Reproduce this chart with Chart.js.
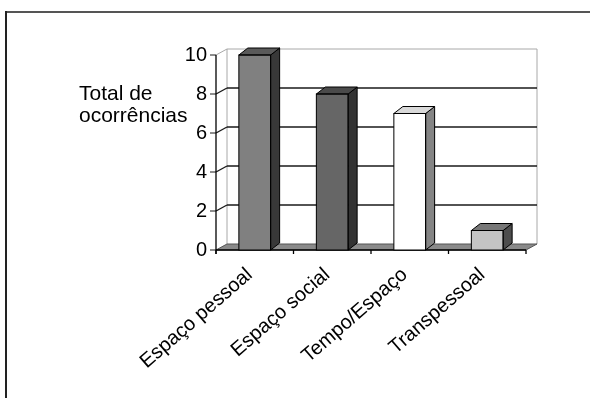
<!DOCTYPE html>
<html>
<head>
<meta charset="utf-8">
<script src="https://cdn.jsdelivr.net/npm/chart.js@4"></script>
<style>
  html, body { margin: 0; padding: 0; background: #ffffff; }
  #wrap { width: 590px; height: 398px; position: relative; }
</style>
</head>
<body>
<div id="wrap"><canvas id="c" width="590" height="398"></canvas></div>
<script>
// Data
const categories = ['Espaço pessoal', 'Espaço social', 'Tempo/Espaço', 'Transpessoal'];
const occurrences = [10, 8, 7, 1];
const yTickValues = [0, 2, 4, 6, 8, 10];
const axisTitleLines = ['Total de', 'ocorrências'];

// Per-bar shading: front, right side, top
const frontColors = ['#808080', '#666666', '#ffffff', '#c4c4c4'];
const sideColors  = ['#383838', '#333333', '#858585', '#4d4d4d'];
const topColors   = ['#5a5a5a', '#4a4a4a', '#d9d9d9', '#777777'];

const FONT = '"Liberation Sans", Arial, Helvetica, sans-serif';

// depth offsets of the walls and of the columns
const WALL_DX = 11, WALL_DY = -6;
const BAR_DX = 9, BAR_DY = -7;

function seg(ctx, x1, y1, x2, y2) {
  ctx.beginPath();
  ctx.moveTo(x1, y1);
  ctx.lineTo(x2, y2);
  ctx.stroke();
}
function poly(ctx, pts, fill, stroke) {
  ctx.beginPath();
  ctx.moveTo(pts[0][0], pts[0][1]);
  for (let i = 1; i < pts.length; i++) ctx.lineTo(pts[i][0], pts[i][1]);
  ctx.closePath();
  if (fill) { ctx.fillStyle = fill; ctx.fill(); }
  if (stroke) { ctx.strokeStyle = stroke; ctx.stroke(); }
}

const frame3d = {
  id: 'frame3d',
  beforeDraw(chart) {
    const ctx = chart.ctx;
    ctx.save();
    ctx.fillStyle = '#ffffff';
    ctx.fillRect(0, 0, chart.width, chart.height);
    // frame lines
    ctx.fillStyle = '#555555';
    ctx.fillRect(5, 11, chart.width - 5, 2);
    ctx.fillStyle = '#222222';
    ctx.fillRect(5, 11, 2, chart.height - 11);
    // axis title
    ctx.fillStyle = '#000000';
    ctx.font = '21px ' + FONT;
    ctx.textAlign = 'left';
    ctx.textBaseline = 'alphabetic';
    ctx.fillText(axisTitleLines[0], 79, 100);
    ctx.fillText(axisTitleLines[1], 79, 122);
    ctx.restore();
  },
  beforeDatasetsDraw(chart) {
    const { ctx, chartArea: a, scales } = chart;
    const y = scales.y;
    const L = a.left, R = a.right;
    const y0 = y.getPixelForValue(0);
    const yTop = y.getPixelForValue(10);
    ctx.save();
    ctx.lineWidth = 1;

    // back wall edges
    ctx.strokeStyle = '#a8a8a8';
    seg(ctx, L + WALL_DX, yTop + WALL_DY, R + WALL_DX, yTop + WALL_DY);
    seg(ctx, L + WALL_DX, yTop + WALL_DY, L + WALL_DX, y0 + WALL_DY);
    seg(ctx, R + WALL_DX, yTop + WALL_DY, R + WALL_DX, y0 + WALL_DY);
    seg(ctx, L, yTop, L + WALL_DX, yTop + WALL_DY);

    // gridlines on back wall and side wall, tick marks on the value axis
    y.ticks.forEach(t => {
      const yp = y.getPixelForValue(t.value);
      ctx.strokeStyle = '#1a1a1a';
      ctx.lineWidth = 1.4;
      if (t.value > 0 && t.value < 10) {
        seg(ctx, L + WALL_DX, yp + WALL_DY, R + WALL_DX, yp + WALL_DY);
        seg(ctx, L, yp, L + WALL_DX, yp + WALL_DY);
      }
      ctx.lineWidth = 1;
      seg(ctx, L - 6, yp, L, yp);
    });

    // floor
    ctx.lineWidth = 1;
    poly(ctx, [[L, y0], [R, y0], [R + WALL_DX, y0 + WALL_DY], [L + WALL_DX, y0 + WALL_DY]], '#8a8a8a', '#555555');
    ctx.strokeStyle = '#000000';
    ctx.lineWidth = 1.3;
    seg(ctx, L, y0, R, y0);
    // front value axis
    seg(ctx, L, yTop, L, y0 + 4);

    // category boundary ticks along the floor front
    const n = categories.length;
    const step = (R - L) / n;
    for (let i = 0; i <= n; i++) {
      const xp = L + i * step;
      seg(ctx, xp, y0, xp, y0 + 4);
    }
    ctx.restore();
  },
  afterDatasetsDraw(chart) {
    const ctx = chart.ctx;
    const meta = chart.getDatasetMeta(0);
    ctx.save();
    ctx.lineWidth = 1;
    meta.data.forEach((bar, i) => {
      const p = bar.getProps(['x', 'y', 'width', 'base'], true);
      const l = p.x - p.width / 2, r = p.x + p.width / 2;
      const t = p.y, b = p.base;
      // right side
      poly(ctx, [[r, t], [r + BAR_DX, t + BAR_DY], [r + BAR_DX, b + BAR_DY], [r, b]], sideColors[i], '#000000');
      // top
      poly(ctx, [[l, t], [l + BAR_DX, t + BAR_DY], [r + BAR_DX, t + BAR_DY], [r, t]], topColors[i], '#000000');
      // front outline
      ctx.strokeStyle = '#000000';
      ctx.strokeRect(l, t, p.width, b - t);
    });
    ctx.restore();
  }
};

new Chart(document.getElementById('c').getContext('2d'), {
  type: 'bar',
  data: {
    labels: categories,
    datasets: [{
      data: occurrences,
      backgroundColor: frontColors,
      borderColor: '#000000',
      borderWidth: 0,
      barPercentage: 0.41,
      categoryPercentage: 1
    }]
  },
  options: {
    responsive: false,
    animation: false,
    events: [],
    layout: { padding: { top: 55, right: 64, left: 0, bottom: 0 } },
    plugins: { legend: { display: false }, tooltip: { enabled: false }, title: { display: false } },
    scales: {
      x: {
        grid: { display: false, drawTicks: false },
        border: { display: false },
        ticks: {
          autoSkip: false,
          minRotation: 41,
          maxRotation: 41,
          padding: 13,
          labelOffset: -5,
          color: '#000000',
          font: { family: FONT, size: 20 }
        },
        afterFit(s) { s.height = 148; }
      },
      y: {
        min: 0,
        max: 10,
        grid: { display: false, drawTicks: false },
        border: { display: false },
        ticks: { padding: 9, color: '#000000', font: { family: FONT, size: 20 } },
        afterBuildTicks(s) { s.ticks = yTickValues.map(v => ({ value: v })); },
        afterFit(s) { s.width = 216; }
      }
    }
  },
  plugins: [frame3d]
});
</script>
</body>
</html>
